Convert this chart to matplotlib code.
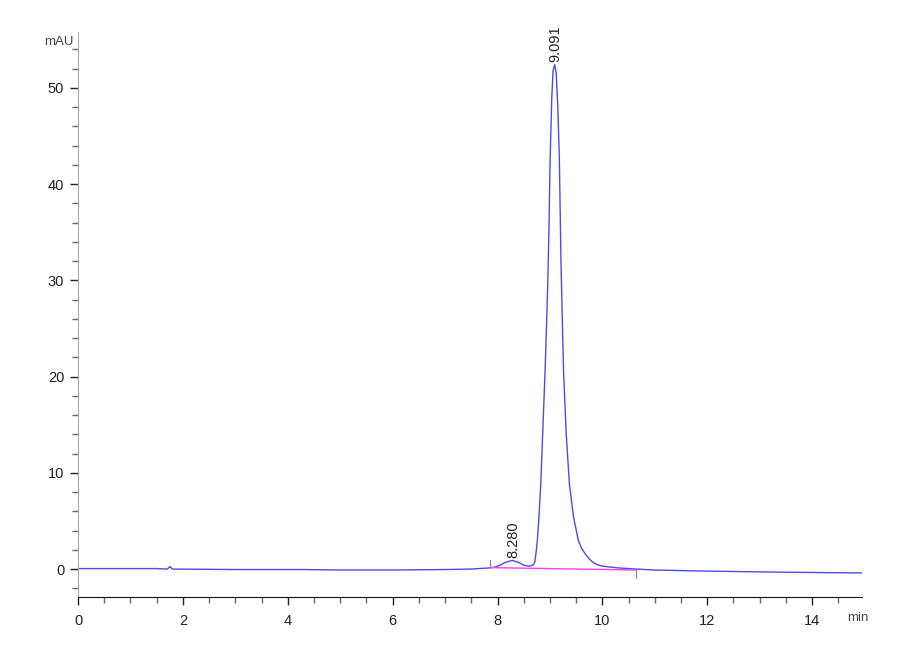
import matplotlib.pyplot as plt
from matplotlib.ticker import MultipleLocator

plt.rcParams['font.family'] = ['Liberation Sans', 'DejaVu Sans']

# 色谱图数据 (读自图片)
t = [0.0, 1.5, 1.70, 1.755, 1.80, 3.0, 4.3, 5.0, 6.0, 7.0, 7.5, 7.80,
     7.95, 8.05, 8.15, 8.28, 8.40, 8.50, 8.60, 8.65, 8.69, 8.71, 8.735,
     8.76, 8.79, 8.825, 8.862, 8.91, 8.94, 8.96, 8.98, 9.003, 9.035,
     9.06, 9.091, 9.12, 9.15, 9.18, 9.21, 9.24, 9.26, 9.31, 9.37, 9.45,
     9.54, 9.60, 9.67, 9.75, 9.83, 9.92, 10.0, 10.3, 10.65, 11.0, 11.86,
     13.07, 14.4, 14.95]
mau = [0.05, 0.05, 0.0, 0.25, 0.0, -0.05, -0.05, -0.1, -0.1, -0.05, 0.0, 0.1,
       0.2, 0.4, 0.7, 0.9, 0.7, 0.4, 0.3, 0.35, 0.5, 0.7, 1.7,
       3.0, 5.4, 8.9, 14.1, 21.0, 26.2, 30.0, 35.0, 42.5, 49.0,
       51.8, 52.4, 51.5, 48.0, 42.5, 32.0, 25.0, 20.5, 14.1, 8.9, 5.4,
       3.0, 2.2, 1.6, 1.05, 0.65, 0.42, 0.3, 0.12, 0.0, -0.1, -0.2,
       -0.3, -0.38, -0.4]

# 积分基线
base_t = [7.86, 10.65]
base_v = [0.15, -0.1]

# 峰标注
peak_rt = [8.280, 9.091]
peak_h = [0.9, 52.4]

fig = plt.figure(figsize=(9, 6.6), dpi=100)
ax = fig.add_axes([0.0867, 0.0955, 0.871, 0.856])

ax.plot(t, mau, color='#4b4be6', lw=1.0)
ax.plot(base_t, base_v, color='#ff3cff', lw=1.0)

# 积分起止标记
ax.plot([base_t[0], base_t[0]], [base_v[0], base_v[0] + 0.8], color='#888888', lw=0.8)
ax.plot([base_t[1], base_t[1]], [base_v[1], base_v[1] - 0.8], color='#888888', lw=0.8)

for rt, h in zip(peak_rt, peak_h):
    ax.text(rt + 0.02, h + 0.3, '%.3f' % rt, rotation=90, ha='center', va='bottom',
            fontsize=10.5, color='#222222')

ax.set_xlim(0, 14.95)
ax.set_ylim(-2.9, 55.8)

ax.xaxis.set_major_locator(MultipleLocator(2))
ax.xaxis.set_minor_locator(MultipleLocator(0.5))
ax.yaxis.set_major_locator(MultipleLocator(10))
ax.yaxis.set_minor_locator(MultipleLocator(2))

ax.spines['top'].set_visible(False)
ax.spines['right'].set_visible(False)
ax.spines['left'].set_color('#aaaaaa')
ax.spines['bottom'].set_color('#111111')
ax.tick_params(axis='both', which='major', length=6, width=1, color='#222222',
               labelsize=10.5, labelcolor='#222222')
ax.tick_params(axis='both', which='minor', length=4, width=1, color='#666666')
ax.tick_params(axis='x', pad=6)
ax.tick_params(axis='y', pad=4)

fig.text(0.049, 0.936, 'mAU', fontsize=9.5, color='#444444', ha='left', va='center')
fig.text(0.941, 0.064, 'min', fontsize=9.5, color='#444444', ha='left', va='center')

plt.savefig('out.png')
